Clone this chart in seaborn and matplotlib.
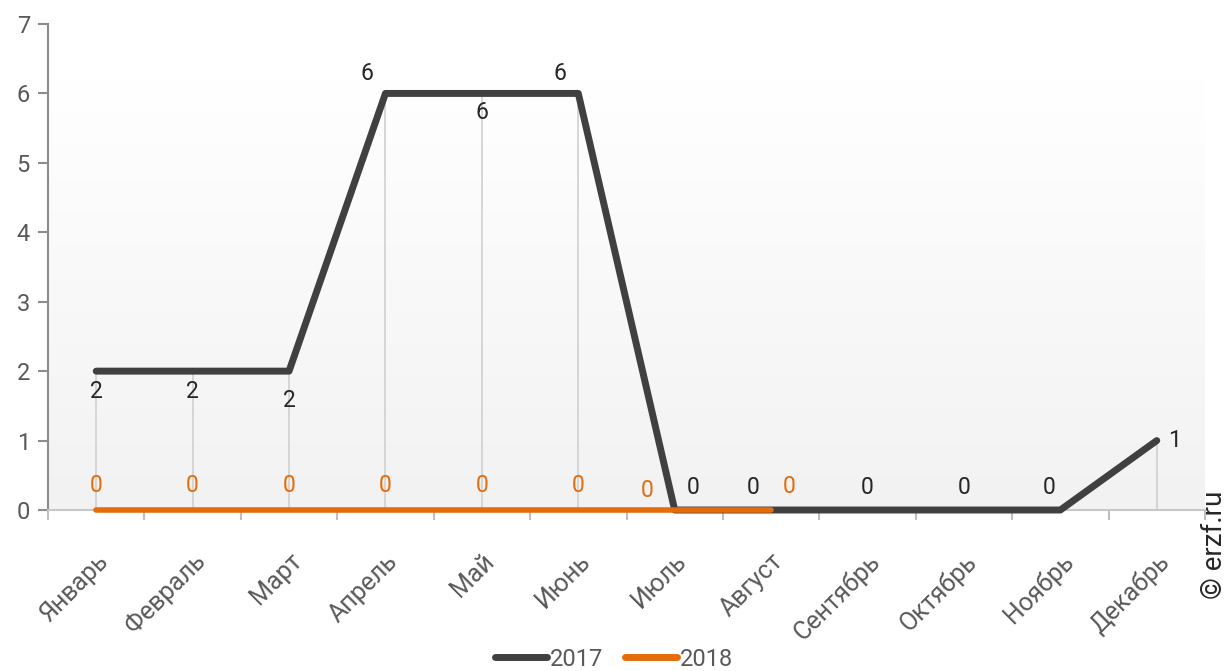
import numpy as np
import pandas as pd
import matplotlib
matplotlib.use("Agg")
import matplotlib.pyplot as plt
import seaborn as sns
from matplotlib.colors import LinearSegmentedColormap
from matplotlib.lines import Line2D

months = ["Январь", "Февраль", "Март", "Апрель", "Май", "Июнь",
          "Июль", "Август", "Сентябрь", "Октябрь", "Ноябрь", "Декабрь"]
values_2017 = [2, 2, 2, 6, 6, 6, 0, 0, 0, 0, 0, 1]
values_2018 = [0, 0, 0, 0, 0, 0, 0, 0]
series_names = ["2017", "2018"]
y_ticks = [0, 1, 2, 3, 4, 5, 6, 7]

sns.set_theme(style="white")
plt.rcParams['font.family'] = ['Roboto', 'DejaVu Sans']

C17 = "#404040"
C18 = "#E46C0A"

fig = plt.figure(figsize=(12.28, 6.71), dpi=100)
ax = fig.add_axes([48/1228, 1-510/671, (1205-48)/1228, (510-24)/671])

df = pd.concat([
    pd.DataFrame({"x": np.arange(len(values_2017)), "y": values_2017, "s": series_names[0]}),
    pd.DataFrame({"x": np.arange(len(values_2018)), "y": values_2018, "s": series_names[1]}),
])

# background gradient (white at top to light grey at bottom)
cmap = LinearSegmentedColormap.from_list("g", ["#f2f2f2", "#ffffff"])
ax.imshow(np.linspace(0, 1, 256).reshape(-1, 1), extent=[-0.5, 11.5, 0, 6.2],
          aspect="auto", cmap=cmap, origin="lower", zorder=0, vmin=0, vmax=1)

# drop lines
n = len(values_2017)
tops = [max(values_2017[i], values_2018[i] if i < len(values_2018) else 0) for i in range(n)]
ax.vlines(np.arange(n), 0, tops, color="#d0d0d0", lw=1.2, zorder=1)

sns.lineplot(data=df, x="x", y="y", hue="s", palette=[C17, C18], ax=ax,
             linewidth=4.5, legend=False, zorder=3)
for ln, lw in zip(ax.lines, [5, 4]):
    ln.set_linewidth(lw)
    ln.set_solid_capstyle("round")
    ln.set_clip_on(False)

ax.set_xlim(-0.5, 11.5)
ax.set_ylim(0, 7)
ax.set_xlabel("")
ax.set_ylabel("")
ax.set_yticks(y_ticks)
ax.set_yticklabels([str(t) for t in y_ticks], fontsize=17, color="#595959")
ax.set_xticks(np.arange(n))
ax.set_xticklabels(months, rotation=45, ha="right", rotation_mode="anchor",
                   fontsize=18, color="#595959")
ax.set_xticks(np.arange(-0.5, n, 1), minor=True)
ax.tick_params(axis="x", which="major", length=0, pad=28)
ax.tick_params(axis="x", which="minor", length=7, color="#bfbfbf", width=1.5, bottom=True)
ax.tick_params(axis="y", length=7, color="#8c8c8c", width=1.5, left=True, pad=6)
for s in ["top", "right"]:
    ax.spines[s].set_visible(False)
ax.spines["left"].set_color("#8c8c8c")
ax.spines["left"].set_linewidth(1.5)
ax.spines["bottom"].set_color("#c8c8c8")
ax.spines["bottom"].set_linewidth(1.5)

# data labels 2017 (offsets in points)
offs17 = [(0, -15), (0, -15), (0, -21), (-13, 14), (0, -14), (-13, 14),
          (13, 16), (-13, 16), (0, 16), (0, 16), (-8, 16), (13, 0)]
for i, v in enumerate(values_2017):
    dx, dy = offs17[i]
    ax.annotate(str(v), (i, v), xytext=(dx, dy), textcoords="offset points",
                ha="center", va="center", fontsize=16.5, color="#262626", zorder=5)
offs18 = [(0, 18), (0, 18), (0, 18), (0, 18), (0, 18), (0, 18), (-20, 14), (13, 17)]
for i, v in enumerate(values_2018):
    dx, dy = offs18[i]
    ax.annotate(str(v), (i, v), xytext=(dx, dy), textcoords="offset points",
                ha="center", va="center", fontsize=16.5, color=C18, zorder=5)

# legend
handles = [Line2D([], [], color=C17, lw=5), Line2D([], [], color=C18, lw=5)]
fig.legend(handles, series_names, loc="center", bbox_to_anchor=(0.5, 1-659/671),
           ncol=2, frameon=False, fontsize=17, handlelength=2.2, handletextpad=0.15,
           columnspacing=0.9, labelcolor="#595959")

fig.text(1214/1228, 1-545/671, "© erzf.ru", rotation=90, ha="center", va="center",
         fontsize=20, color="#262626")

fig.savefig("out.png", dpi=100)
